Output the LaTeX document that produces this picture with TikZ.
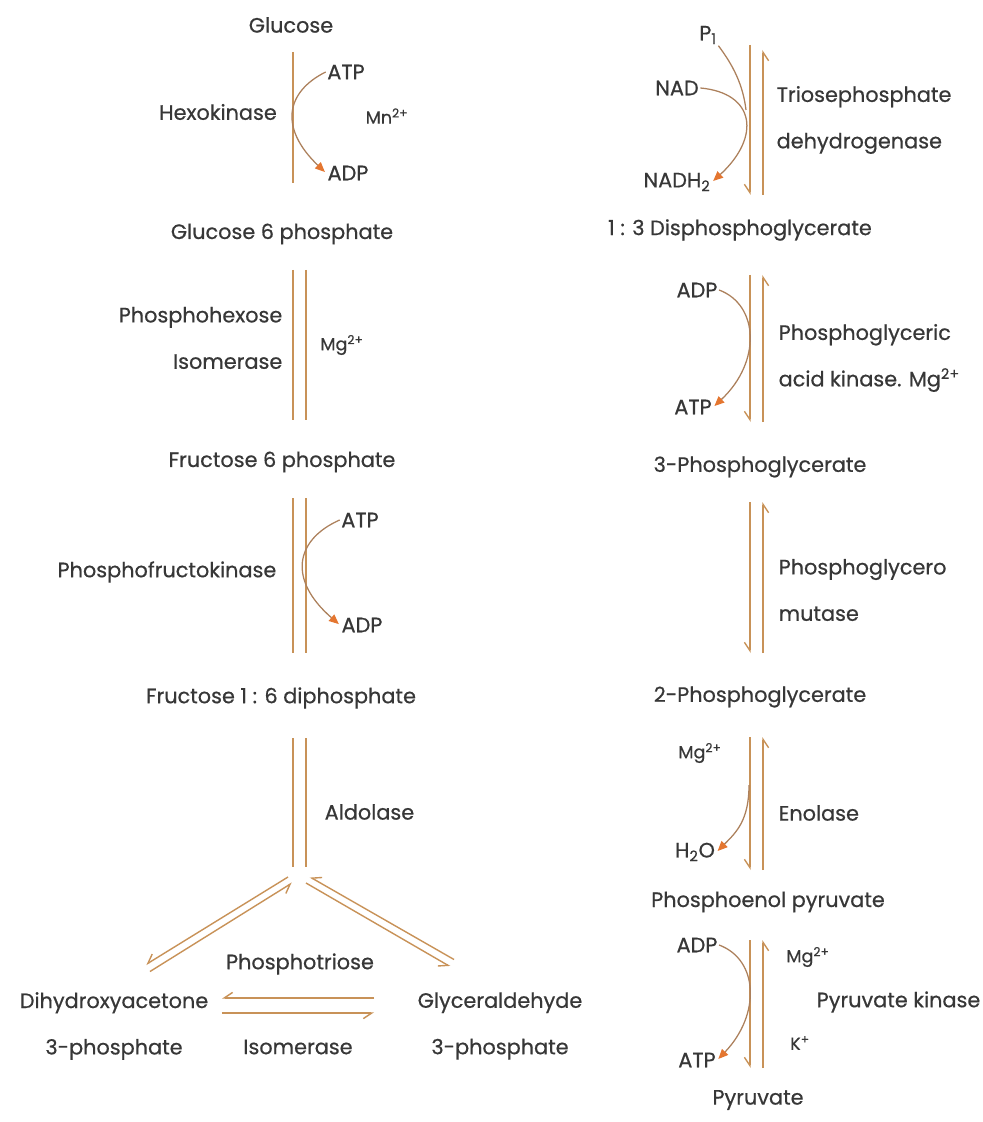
\documentclass[tikz,border=0pt]{standalone}
\usepackage{fontspec}
\setmainfont{Poppins}[FakeBold=0.6]
\usetikzlibrary{arrows.meta,calc}

\definecolor{pathline}{RGB}{200,146,88}
\definecolor{sidecol}{RGB}{172,128,92}
\definecolor{tipcol}{RGB}{228,118,48}
\definecolor{txt}{RGB}{55,55,55}

\newcommand\metfont{\fontsize{14.8}{33}\selectfont}
\newcommand\ionfont{\fontsize{12.5}{15}\selectfont}

\tikzset{
  met/.style={font=\metfont, text=txt, inner sep=1pt},
  enz/.style={font=\metfont, text=txt, inner sep=1pt, align=left},
  ion/.style={font=\ionfont, text=txt, inner sep=1pt},
  way/.style={draw=pathline, line width=1pt},
  fwd/.style={way, -{Straight Barb[harpoon,swap,length=6pt,width=8pt]}},
  side/.style={draw=sidecol, line width=0.9pt, shorten >=1pt,
    -{Triangle[length=7pt,width=6pt,fill=tipcol,color=tipcol]}},
  cut/.style 2 args={shorten <=#1*0.025cm, shorten >=#2*0.025cm}
}

\begin{document}
\begin{tikzpicture}[x=0.025cm,y=-0.025cm]
\useasboundingbox (0,0) rectangle (983,1122);
% line columns
\coordinate (xL) at (293,0);
\coordinate (xR) at (306,0);
\coordinate (xA) at (750,0);
\coordinate (xB) at (763,0);

% left column
\node[met] (glc) at (291,25) {Glucose};
\node[met] (atpA) at (346,72) {ATP};
\node[ion] (mnA) at (387,116) {Mn\textsuperscript{2+}};
\node[met] (adpA) at (348,173) {ADP};
\node[met] (hexo) at (218,112) {Hexokinase};
\node[met] (g6p) at (282,234) {Glucose 6 phosphate};
\node[enz, align=right, anchor=east] (phi) at (284,338) {Phosphohexose\\Isomerase};
\node[ion] (mgA) at (342,345) {Mg\textsuperscript{2+}};
\node[met] (f6p) at (282,462) {Fructose 6 phosphate};
\node[met] (atpB) at (360,520) {ATP};
\node[met] (adpB) at (362,625) {ADP};
\node[met, anchor=east] (pfk) at (278,572) {Phosphofructokinase};
\node[met] (f16) at (281,698) {Fructose 1 : 6 diphosphate};
\node[met, anchor=west] (ald) at (323,812) {Aldolase};
\coordinate (split) at (299,867);
\node[enz, align=center] (dhap) at (114,1026) {Dihydroxyacetone\\3-phosphate};
\node[enz, align=center] (gap) at (500,1026) {Glyceraldehyde\\3-phosphate};
\node[met] (pti) at (300,964) {Phosphotriose};
\node[met] (iso) at (298,1047) {Isomerase};

\draw[way,cut={27}{51}] (glc.center -| xL) -- (g6p.center -| xL);
\draw[side] (atpA.west) .. controls +(-40,20) and +(-47,-45) .. (adpA.west);
\draw[way,cut={36}{42}] (g6p.center -| xL) -- (f6p.center -| xL);
\draw[way,cut={36}{42}] (g6p.center -| xR) -- (f6p.center -| xR);
\draw[way,cut={36}{45}] (f6p.center -| xL) -- (f16.center -| xL);
\draw[way,cut={36}{45}] (f6p.center -| xR) -- (f16.center -| xR);
\draw[side] (atpB.west) .. controls +(-45,20) and +(-52,-45) .. (adpB.west);
\draw[way,cut={40}{0}] (f16.center -| xL) -- (split -| xL);
\draw[way,cut={40}{0}] (f16.center -| xR) -- (split -| xR);

% triose split
\coordinate (dhapIn) at (148,968);
\coordinate (gapIn) at (452,963);
\draw[fwd] ($(split)+(-11,10)$) -- ($(dhapIn)+(-2,-3.5)$);
\draw[fwd] ($(dhapIn)+(2,3.5)$) -- ($(split)+(-7,16)$);
\draw[fwd] ($(gapIn)+(2,-3.5)$) -- ($(split)+(11,10)$);
\draw[fwd] ($(split)+(7,16)$) -- ($(gapIn)+(-2,3.5)$);
\draw[fwd,cut={42}{12}] ([yshift=0.7cm]gap.west) -- ([yshift=0.7cm]dhap.east);
\draw[fwd,cut={12}{42}] ([yshift=0.325cm]dhap.east) -- ([yshift=0.325cm]gap.west);

% right column
\node[met] (p1) at (708,35) {P\textsubscript{1}};
\node[met] (nad) at (677,88) {NAD};
\node[met] (nadh) at (677,182) {NADH\textsubscript{2}};
\node[enz, anchor=west] (tpd) at (775,120) {Triosephosphate\\dehydrogenase};
\coordinate (top) at (756,45);
\coordinate (pm) at (746,110);
\node[met] (bpg) at (740,230) {1 : 3 Disphosphoglycerate};
\node[met] (adpC) at (697,290) {ADP};
\node[met] (atpC) at (693,407) {ATP};
\node[enz, anchor=west] (pgk) at (777,358) {Phosphoglyceric\\acid kinase. Mg\textsuperscript{2+}};
\node[met] (pg3) at (760,467) {3-Phosphoglycerate};
\node[enz, anchor=west] (pgm) at (777,590) {Phosphoglycero\\mutase};
\node[met] (pg2) at (760,697) {2-Phosphoglycerate};
\node[ion] (mgE) at (700,753) {Mg\textsuperscript{2+}};
\node[met, anchor=west] (eno) at (777,813) {Enolase};
\node[met] (h2o) at (695,852) {H\textsubscript{2}O};
\coordinate (eno0) at (749,785);
\node[met] (pep) at (768,902) {Phosphoenol pyruvate};
\node[met] (adpD) at (697,945) {ADP};
\node[ion] (mgP) at (808,957) {Mg\textsuperscript{2+}};
\node[met, anchor=west] (pk) at (815,1002) {Pyruvate kinase};
\node[ion] (kP) at (800,1043) {K\textsuperscript{+}};
\node[met] (atpD) at (697,1060) {ATP};
\node[met] (pyr) at (758,1100) {Pyruvate};

\draw[fwd,cut={0}{35}] (top -| xA) -- (bpg.center -| xA);
\draw[fwd,cut={35}{5}] (bpg.center -| xB) -- (top -| xB);
\draw[side] (nad.east) .. controls +(55,5) and +(49,-45) .. (nadh.east);
\draw[draw=sidecol, line width=0.9pt] (p1.south east) .. controls +(15,20) and +(-3,-25) .. (pm);
\draw[fwd,cut={45}{45}] (bpg.center -| xA) -- (pg3.center -| xA);
\draw[fwd,cut={45}{45}] (pg3.center -| xB) -- (bpg.center -| xB);
\draw[side] (adpC.east) .. controls +(40,15) and +(48,-45) .. (atpC.east);
\draw[fwd,cut={35}{44}] (pg3.center -| xA) -- (pg2.center -| xA);
\draw[fwd,cut={44}{35}] (pg2.center -| xB) -- (pg3.center -| xB);
\draw[fwd,cut={40}{32}] (pg2.center -| xA) -- (pep.center -| xA);
\draw[fwd,cut={32}{40}] (pep.center -| xB) -- (pg2.center -| xB);
\draw[side] (eno0) .. controls +(0,35) and +(20,-20) .. (h2o.east);
\draw[fwd,cut={38}{32}] (pep.center -| xA) -- (pyr.center -| xA);
\draw[fwd,cut={32}{38}] (pyr.center -| xB) -- (pep.center -| xB);
\draw[side] (adpD.east) .. controls +(40,15) and +(43,-45) .. (atpD.east);
\end{tikzpicture}
\end{document}
